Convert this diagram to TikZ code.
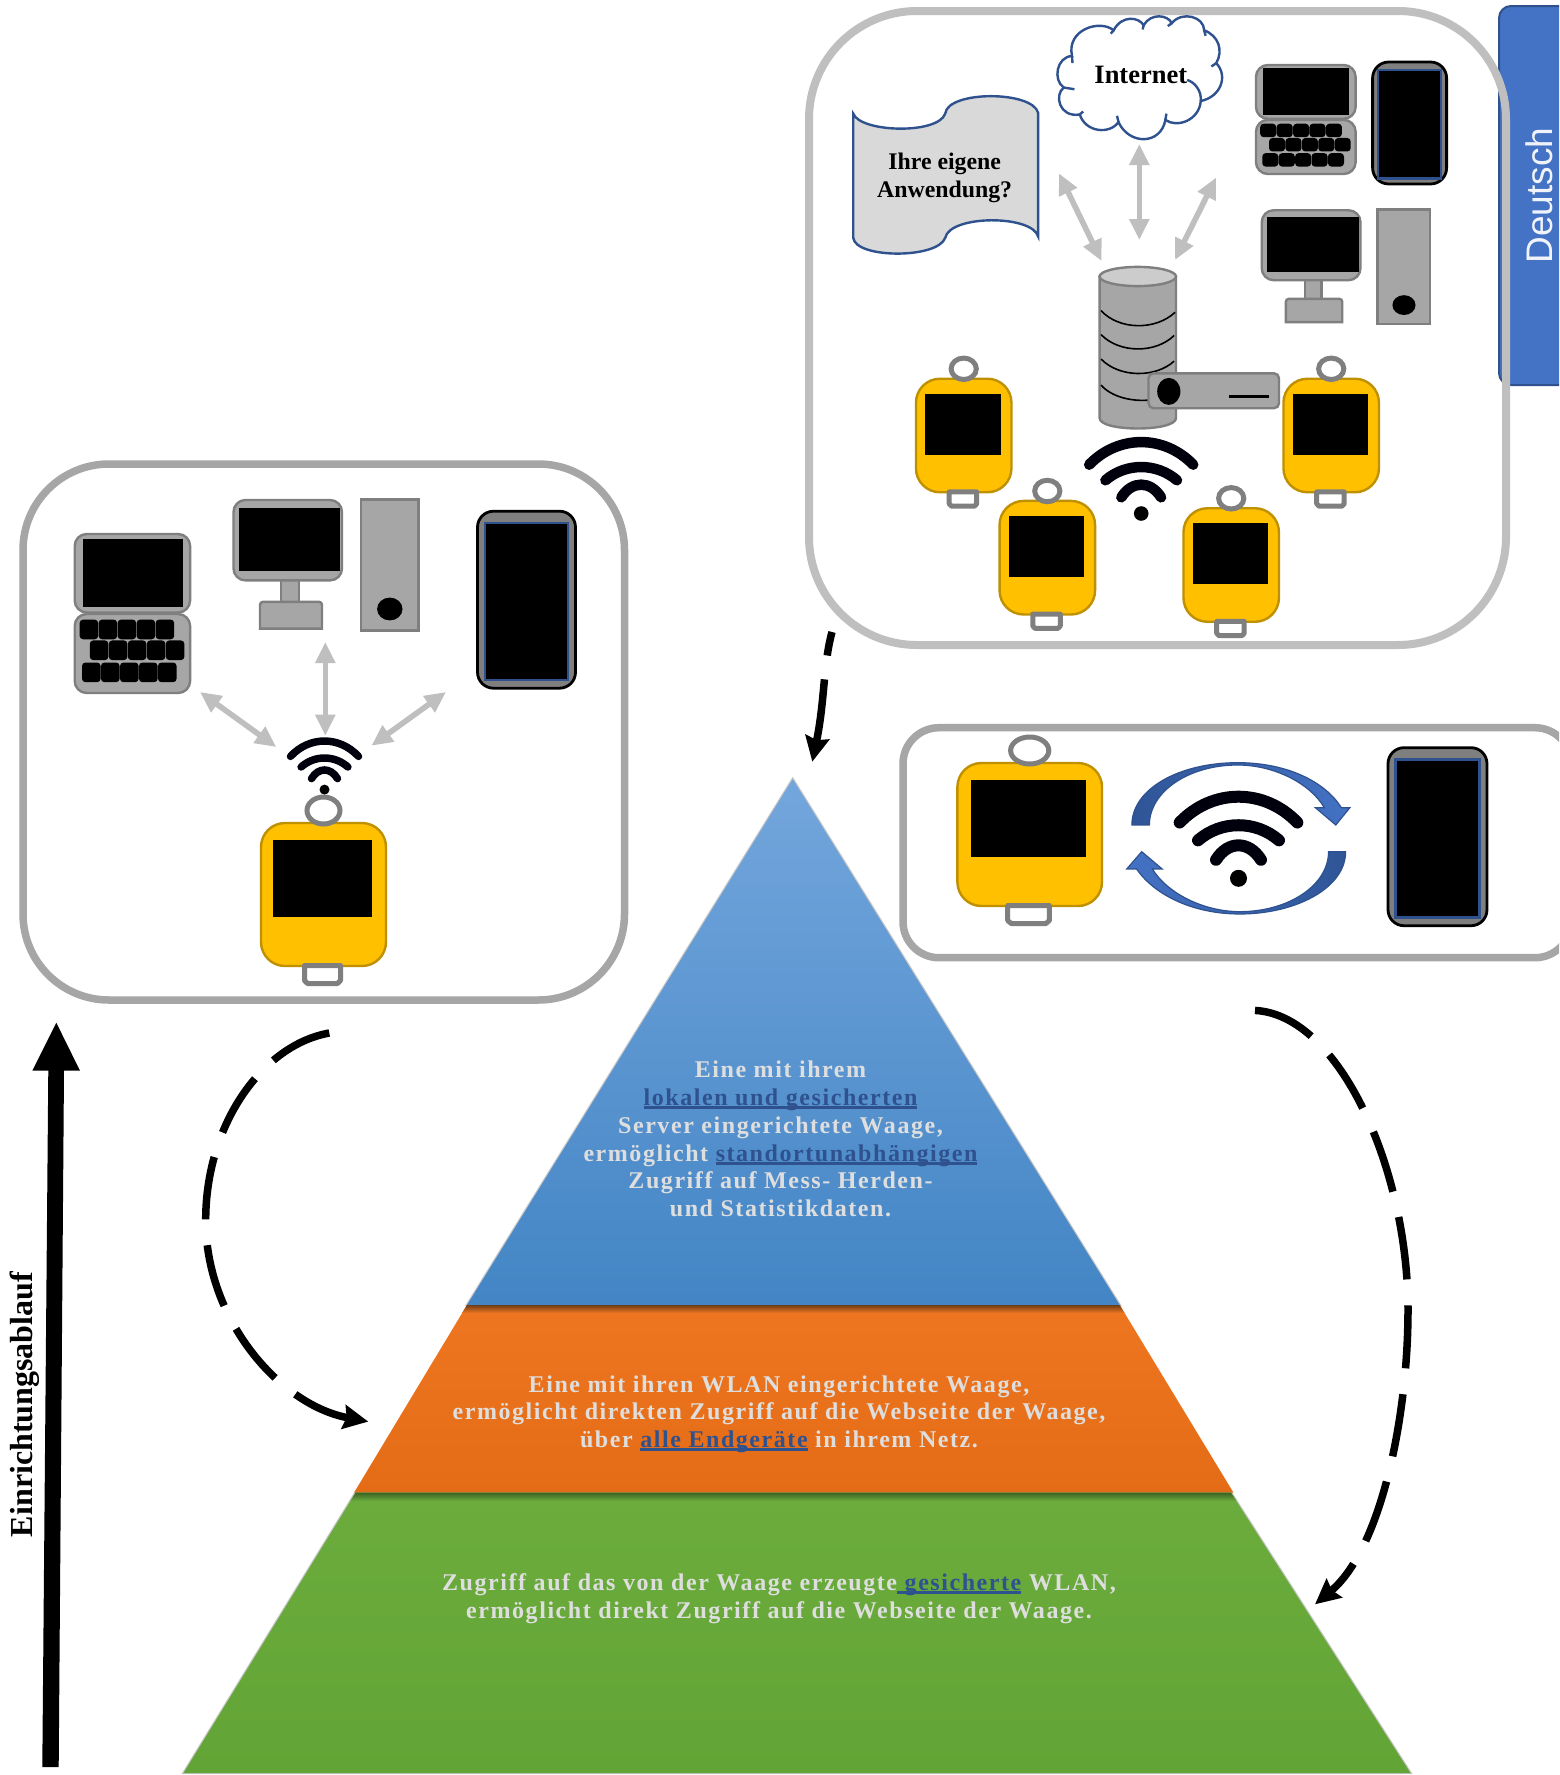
\documentclass[tikz,border=0pt]{standalone}
\usepackage{fontspec}
\setmainfont{Liberation Serif}
\newfontfamily\sansf{Liberation Sans}
\newfontfamily\pyrf[LetterSpace=6.5]{Liberation Serif}
\usetikzlibrary{arrows.meta}
\definecolor{ybody}{HTML}{FFC000}
\definecolor{yline}{HTML}{BF9000}
\definecolor{gline}{HTML}{7F7F7F}
\definecolor{gfill}{HTML}{A6A6A6}
\definecolor{lgray}{HTML}{BFBFBF}
\definecolor{hlblue}{HTML}{2F528F}
\definecolor{tabblue}{HTML}{4472C4}
\definecolor{pyrtext}{HTML}{DEDEDE}
\newcommand\hl[1]{\sbox0{\color{hlblue}#1}\rlap{\color{hlblue}\rule[-3.6pt]{\wd0}{2.8pt}}\usebox0}
\newcommand\waage[5]{\begin{scope}[shift={(#1,#2)},xscale=#3,yscale=#4]
  \draw[draw=yline,fill=ybody,line width=2.4pt,rounded corners=24pt] (-62.5,-71.5) rectangle (62.5,71.5);
  \fill[black] (-50.5,-54.5+#5) rectangle (48.5,22.5+#5);
  \draw[draw=gline,fill=white,line width=5pt] (0,-84) ellipse [x radius=16.5,y radius=13.5];
  \draw[draw=gline,fill=white,line width=5pt,line join=round] (-19,71) -- (17,71) -- (17,86) -- (14,89) -- (-16,89) -- (-19,86) -- cycle;
\end{scope}}
\newcommand\handy[4]{\begin{scope}[shift={(#1,#2)},xscale=#3,yscale=#4]
  \draw[draw=black,fill=gline,line width=2.8pt,rounded corners=16pt] (-49,-88.5) rectangle (49,88.5);
  \draw[draw=hlblue,fill=black,line width=2.4pt] (-41.5,-76.7) rectangle (41.5,80.3);
\end{scope}}
\newcommand\keyrow[2]{\foreach \k in {0,1,2,3,4} {\fill[black,rounded corners=3.5pt] (#1+\k*19,#2) rectangle ++(18.6,19.7);}}
\newcommand\laptop[4]{\begin{scope}[shift={(#1,#2)},xscale=#3,yscale=#4]
  \draw[draw=gline,fill=gfill,line width=2.4pt,rounded corners=12pt] (-57.7,-79.5) rectangle (57.7,-1);
  \fill[black] (-49.4,-74.9) rectangle (50.1,-6.5);
  \draw[draw=gline,fill=gfill,line width=2.4pt,rounded corners=12pt] (-57.7,0.5) rectangle (57.7,79.5);
  \keyrow{-52.8}{6.1}\keyrow{-42.6}{26.9}\keyrow{-50.4}{49}
\end{scope}}
\newcommand\rechner[4]{\begin{scope}[shift={(#1,#2)},xscale=#3,yscale=#4]
  \draw[draw=gline,fill=gfill,line width=2.4pt] (-44.2,12.9) rectangle (-25.8,38);
  \draw[draw=gline,fill=gfill,line width=2.4pt,rounded corners=12pt] (-91.5,-65) rectangle (17,15.4);
  \fill[black] (-86.2,-57.1) rectangle (15,5.7);
  \draw[draw=gline,fill=gfill,line width=2.4pt] (-65,63.6) [rounded corners=3pt] -- (-65,36.8) -- (-3,36.8) [sharp corners] -- (-3,63.6) -- cycle;
  \draw[draw=gline,fill=gfill,line width=2.4pt] (35.8,-65.7) rectangle (93.4,65.4);
  \fill[black] (64.8,44) ellipse [x radius=12.7,y radius=11.4];
\end{scope}}
\newcommand\funk[6]{\begin{scope}[shift={(#1,#2)},xscale=#3,yscale=#4]
  \draw[line width=#5pt,line cap=round,color=black!95!blue] (-34,-33.2) .. controls (-15,-53.7) and (15,-53.7) .. (34,-33.2);
  \draw[line width=#5pt,line cap=round,color=black!95!blue] (-23.4,-22.6) .. controls (-10,-34.6) and (10,-34.6) .. (23.4,-22.6);
  \draw[line width=#5pt,line cap=round,color=black!95!blue] (-13,-11) .. controls (-6,-22.5) and (6,-22.5) .. (13,-11);
  \fill[black] (0,0) ellipse [x radius=#6/#3,y radius=#6/#4];
\end{scope}}
\tikzset{
  panelA/.style={draw=lgray,line width=8pt,rounded corners=108pt},
  panelB/.style={draw=gfill,fill=white,line width=7.5pt,rounded corners=86pt},
  panelC/.style={draw=gfill,fill=white,line width=7.5pt,rounded corners=36pt},
  grayarrow/.style={draw=lgray,line width=5.6pt,{Triangle[length=21pt,width=19pt]}-{Triangle[length=21pt,width=19pt]}},
  flow/.style={draw=black,line width=7.5pt,dash pattern=on 63pt off 26pt,-{Stealth[length=25pt,width=24pt,inset=3pt]}},
  zA/.style={shift={(800,0)},xscale=0.484,yscale=0.4209},
  zC/.style={shift={(890,715)},xscale=0.4266,yscale=0.3333},
  pyr/.style={text=pyrtext,align=center,font=\pyrf\bfseries\fontsize{24}{27.7}\selectfont,inner sep=0pt},
  bold/.style={font=\bfseries\fontsize{#1}{28}\selectfont,align=center,inner sep=0pt,text=black},
  cloudline/.style={draw=hlblue,line width=2.4pt},
  layeredge/.style={draw=gray!45,line width=2.4pt,line join=miter}
}
\begin{document}
\begin{tikzpicture}[x=1pt,y=-1pt]
\clip (0,0) rectangle (1559,1775);
\fill[white] (0,0) rectangle (1559,1775);
% panels and language tab
\fill[white,rounded corners=108pt] (809,11) rectangle (1506,645);
\draw[draw=hlblue,fill=tabblue,line width=2pt,rounded corners=12pt] (1499,6) rectangle (1600,385);
\draw[panelA] (809,11) rectangle (1506,645);
\draw[panelB] (23,464) rectangle (624.5,1000);
\draw[panelC] (903,727.7) rectangle (1571,957.7);
\node[rotate=90,text=white!92!tabblue,font=\sansf\fontsize{37}{40}\selectfont,inner sep=0pt] (deutsch) at (1539,195.5) {Deutsch};
% pyramid
\draw[layeredge] (792.7,779) -- (1119.7,1305) -- (467,1305) -- cycle;
\draw[layeredge] (355.5,1492.7) -- (1231,1492.7) -- (1410.5,1773) -- (183.5,1773) -- cycle;
\shade[top color={rgb,255:red,115;green,166;blue,220},middle color={rgb,255:red,88;green,155;blue,218},bottom color={rgb,255:red,67;green,133;blue,197}] (792.7,779) -- (1119.7,1305) -- (467,1305) -- cycle;
\shade[top color={rgb,255:red,239;green,118;blue,32},bottom color={rgb,255:red,229;green,108;blue,23}] (467,1305) -- (1119.7,1305) -- (1233.5,1492.7) -- (354,1492.7) -- cycle;
\shade[top color={rgb,255:red,107;green,172;blue,61},bottom color={rgb,255:red,99;green,164;blue,54}] (355.5,1492.7) -- (1231,1492.7) -- (1410.5,1773) -- (183.5,1773) -- cycle;
\shade[top color={rgb,255:red,110;green,62;blue,24},bottom color={rgb,255:red,239;green,118;blue,32}] (467,1305) -- (1119.7,1305) -- (1124.5,1313) -- (462,1313) -- cycle;
\shade[top color={rgb,255:red,60;green,100;blue,36},bottom color={rgb,255:red,107;green,172;blue,61}] (355.5,1492.7) -- (1231,1492.7) -- (1236.5,1501) -- (350.5,1501) -- cycle;
\node[pyr] (blue) at (780.5,1139) {Eine mit ihrem\\\hl{lokalen und gesicherten}\\Server eingerichtete Waage,\\ermöglicht \hl{standortunabhängigen}\\Zugriff auf Mess- Herden-\\und Statistikdaten.};
\node[pyr] (orange) at (779,1414.2) {Eine mit ihren WLAN eingerichtete Waage,\\ermöglicht direkten Zugriff auf die Webseite der Waage,\\über \hl{alle Endgeräte} in ihrem Netz.};
\node[pyr] (green) at (779,1598.5) {Zugriff auf das von der Waage erzeugte\hl{\ gesicherte} WLAN,\\ermöglicht direkt Zugriff auf die Webseite der Waage.};
% left panel
\laptop{132.4}{613.5}{1}{1}
\rechner{325}{565}{1}{1}
\handy{526.5}{599.7}{1}{1}
\funk{324.5}{789.6}{1}{1}{7.5}{5}
\waage{323.5}{894.5}{1}{1}{0}
\coordinate (la1) at (200,692); \coordinate (la2) at (276.3,747);
\coordinate (lb1) at (325.3,642); \coordinate (lb2) at (325.3,735.7);
\coordinate (lc1) at (446,692); \coordinate (lc2) at (371.4,745.7);
\draw[grayarrow] (la1) -- (la2);
\draw[grayarrow] (lb1) -- (lb2);
\draw[grayarrow] (lc1) -- (lc2);
% right panel
\waage{1029.7}{834.5}{1.157}{1}{0}
\handy{1437.5}{836.7}{1.01}{1.006}
\funk{1238.5}{878.3}{1.73}{1.68}{12}{8.5}
\begin{scope}[zC]
\shade[left color={rgb,255:red,47;green,85;blue,151},right color=tabblue,draw=hlblue,line width=1.2pt] (567,330) .. controls (567,220) and (680,143) .. (815,143) .. controls (930,143) and (1020,200) .. (1058,278) -- (1078,278) -- (1045,330) -- (997,278) -- (1018,278) .. controls (985,205) and (900,150) .. (815,150) .. controls (700,150) and (608,230) .. (608,330) -- cycle;
\shade[left color=tabblue,right color={rgb,255:red,47;green,85;blue,151},draw=hlblue,line width=1.2pt] (1068,410) .. controls (1068,520) and (950,597) .. (820,597) .. controls (710,597) and (620,540) .. (578,462) -- (555,462) -- (590,410) -- (638,462) -- (615,462) .. controls (650,535) and (735,590) .. (820,590) .. controls (935,590) and (1028,510) .. (1028,410) -- cycle;
\end{scope}
% top right panel
\begin{scope}[zA]
\draw[cloudline,fill=gray!30] (110,270) .. controls (125,315) and (285,320) .. (300,270) .. controls (305,215) and (480,215) .. (492,268) -- (492,562) .. controls (480,510) and (310,510) .. (300,565) .. controls (285,615) and (115,615) .. (110,565) -- cycle;
\draw[cloudline,fill=white] (545,208) .. controls (522,190) and (530,135) .. (562,133) .. controls (550,70) and (620,45) .. (648,72) .. controls (665,35) and (700,40) .. (710,60) .. controls (725,30) and (760,35) .. (768,55) .. controls (790,25) and (835,40) .. (835,72) .. controls (865,85) and (875,120) .. (860,150) .. controls (885,180) and (870,230) .. (828,240) .. controls (825,285) and (780,305) .. (755,285) .. controls (745,345) and (680,345) .. (658,290) .. controls (640,320) and (590,315) .. (578,272) .. controls (535,280) and (525,225) .. (545,208) -- cycle;
\draw[cloudline] (545,208) -- (567,212);
\draw[cloudline] (562,133) -- (563,150);
\draw[cloudline] (648,72) -- (642,80);
\draw[cloudline] (710,60) -- (708,70);
\draw[cloudline] (768,55) -- (760,62);
\draw[cloudline] (835,72) -- (838,85);
\draw[cloudline] (860,150) -- (850,158);
\draw[cloudline] (828,240) .. controls (830,215) and (815,195) .. (800,190);
\draw[cloudline] (755,285) -- (757,270);
\draw[cloudline] (658,290) -- (655,275);
\draw[cloudline] (578,272) -- (585,265);
\end{scope}
\node[bold=23.8] (app) at (944.7,178.3) {Ihre eigene\\Anwendung?};
\node[bold=26.5] (inet) at (1140.8,74.5) {Internet};
\coordinate (ta1) at (1059,173.4); \coordinate (ta2) at (1101.5,261);
\coordinate (tb1) at (1139.3,144); \coordinate (tb2) at (1139.3,240);
\coordinate (tc1) at (1216,177.6); \coordinate (tc2) at (1175,260);
\draw[grayarrow] (ta1) -- (ta2);
\draw[grayarrow] (tb1) -- (tb2);
\draw[grayarrow] (tc1) -- (tc2);
\laptop{1305.8}{119.5}{0.864}{0.686}
\handy{1409.6}{123}{0.755}{0.689}
\rechner{1345}{266.8}{0.91}{0.87}
% server
\draw[draw=gline,fill=gfill,line width=2.4pt] (1099.6,276.5) -- (1099.6,418) .. controls (1099.6,432) and (1176,432) .. (1176,418) -- (1176,276.5) -- cycle;
\draw[draw=gline,fill=gray!40,line width=2.4pt] (1137.8,276.5) ellipse [x radius=38.2,y radius=9.6];
\begin{scope}[zA]
\draw[black,line width=1.6pt] (622,738) .. controls (660,785) and (735,785) .. (775,742);
\draw[black,line width=1.6pt] (622,795) .. controls (660,840) and (735,840) .. (773,797);
\draw[black,line width=1.6pt] (622,853) .. controls (660,898) and (735,898) .. (773,858);
\draw[black,line width=1.6pt] (622,915) .. controls (645,945) and (690,955) .. (725,950);
\end{scope}
\draw[draw=gline,fill=gfill,line width=2.4pt,rounded corners=5pt] (1148.5,373.3) rectangle (1279,408.2);
\fill[black] (1168.8,391.4) ellipse [x radius=11.6,y radius=13.5];
\fill[black] (1229.3,394.6) rectangle (1268.5,398.4);
\funk{1141.2}{513.5}{1.53}{1.47}{10.5}{7.3}
\waage{963.7}{435.5}{0.764}{0.794}{1.7}
\waage{1047.3}{557.7}{0.764}{0.794}{1.7}
\waage{1231.2}{565}{0.764}{0.794}{1.7}
\waage{1331.2}{435.5}{0.764}{0.794}{1.7}
% flow arrows
\coordinate (fa1) at (329.3,1033);
\coordinate (fa2) at (205.7,1220);
\coordinate (fa3) at (368.3,1421.6);
\draw[flow] (fa1) .. controls (262,1045) and (205.7,1125) .. (fa2) .. controls (205.7,1320) and (280,1405) .. (fa3);
\coordinate (fb1) at (1255,1010.4);
\coordinate (fb2) at (1408,1310);
\coordinate (fb3) at (1315,1604.3);
\draw[flow] (fb1) .. controls (1340,1015) and (1408,1170) .. (fb2) .. controls (1408,1420) and (1380,1550) .. (fb3);
\coordinate (fc1) at (832,632);
\coordinate (fc2) at (812.3,761.7);
\draw[flow,dash pattern=on 24pt off 24pt on 120pt off 0pt] (fc1) .. controls (823,665) and (825,700) .. (fc2);
% process arrow
\fill[black] (42.3,1767) -- (58.7,1767) -- (64,1070.7) -- (80,1070.7) -- (56.3,1022.7) -- (32.3,1070.7) -- (48.3,1070.7) -- cycle;
\node[rotate=90,anchor=base,font=\bfseries\fontsize{32}{36}\selectfont,inner sep=0pt] (ablauf) at (32,1404.5) {Einrichtungsablauf};
\end{tikzpicture}
\end{document}
